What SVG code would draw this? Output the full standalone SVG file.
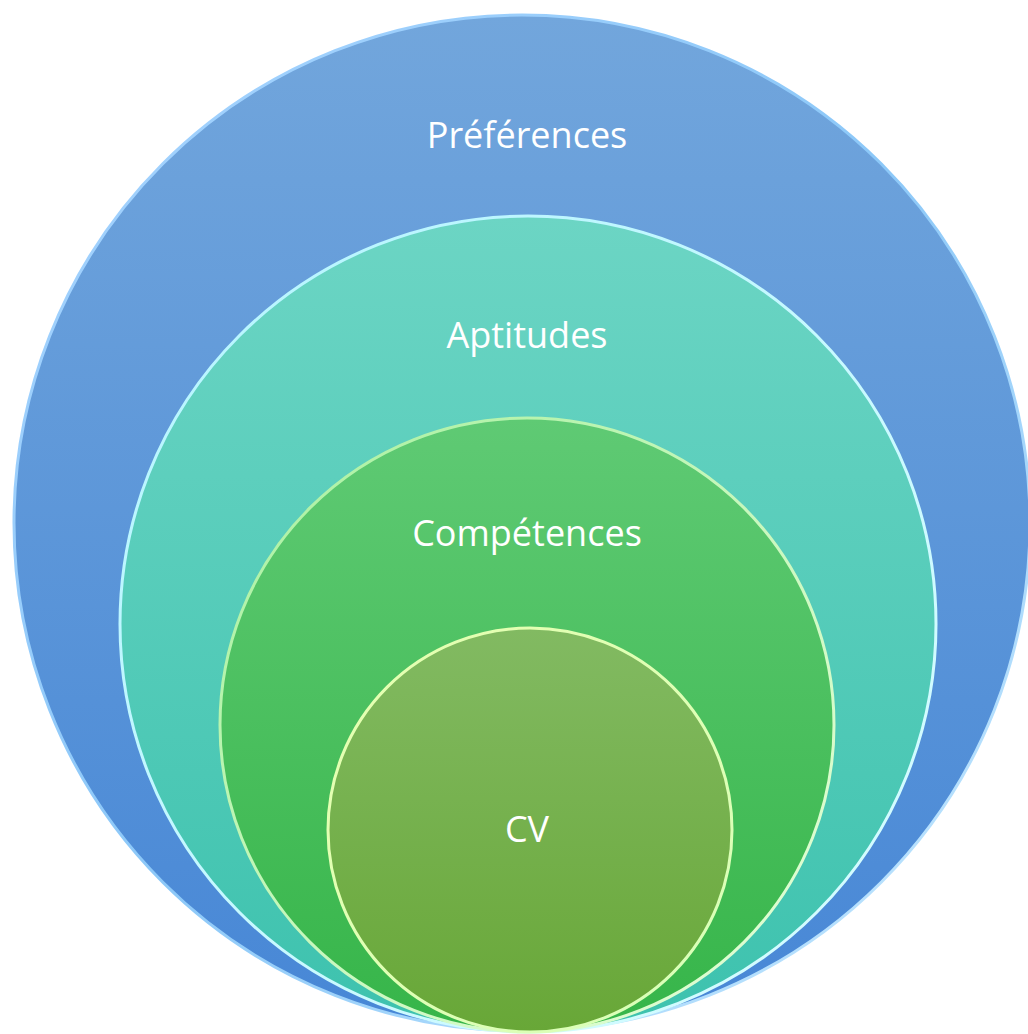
<svg xmlns="http://www.w3.org/2000/svg" width="1028" height="1034" viewBox="0 0 1028 1034">
  <style>
    .lbl { font-family: "Open Sans", "Noto Sans", "Liberation Sans", sans-serif; font-size: 36px; fill: #ffffff; text-anchor: middle; }
  </style>
  <defs>
    <linearGradient id="gBlue" x1="0" y1="0" x2="0" y2="1">
      <stop offset="0" stop-color="#72a6dc"/>
      <stop offset="1" stop-color="#4787d6"/>
    </linearGradient>
    <linearGradient id="gTeal" x1="0" y1="0" x2="0" y2="1">
      <stop offset="0" stop-color="#6cd5c4"/>
      <stop offset="1" stop-color="#3dc2ae"/>
    </linearGradient>
    <linearGradient id="gGreen" x1="0" y1="0" x2="0" y2="1">
      <stop offset="0" stop-color="#5fca74"/>
      <stop offset="1" stop-color="#36b549"/>
    </linearGradient>
    <linearGradient id="gOlive" x1="0" y1="0" x2="0" y2="1">
      <stop offset="0" stop-color="#82ba62"/>
      <stop offset="1" stop-color="#68a737"/>
    </linearGradient>
    <linearGradient id="sBlue" x1="0" y1="0" x2="1" y2="1">
      <stop offset="0" stop-color="#a8d4ff"/>
      <stop offset="0.5" stop-color="#8cc8f8"/>
      <stop offset="1" stop-color="#c8eaff"/>
    </linearGradient>
    <linearGradient id="sTeal" x1="0" y1="0" x2="1" y2="1">
      <stop offset="0" stop-color="#b4f4ff"/>
      <stop offset="1" stop-color="#d8fdff"/>
    </linearGradient>
    <linearGradient id="sGreen" x1="0" y1="0" x2="1" y2="1">
      <stop offset="0" stop-color="#a8f0a0"/>
      <stop offset="1" stop-color="#e6ffd8"/>
    </linearGradient>
    <linearGradient id="sOlive" x1="0" y1="0" x2="1" y2="1">
      <stop offset="0" stop-color="#e6ffb0"/>
      <stop offset="1" stop-color="#d8ffb8"/>
    </linearGradient>
  </defs>
  <rect width="1028" height="1034" fill="#ffffff"/>
  <g id="preferences">
    <circle cx="522" cy="523" r="508" fill="url(#gBlue)" stroke="url(#sBlue)" stroke-width="3"/>
    <text class="lbl" x="527" y="148">Préférences</text>
  </g>
  <g id="aptitudes">
    <circle cx="528" cy="624" r="408" fill="url(#gTeal)" stroke="url(#sTeal)" stroke-width="3"/>
    <text class="lbl" x="527" y="348">Aptitudes</text>
  </g>
  <g id="competences">
    <circle cx="527" cy="725" r="307" fill="url(#gGreen)" stroke="url(#sGreen)" stroke-width="3"/>
    <text class="lbl" x="527" y="546">Compétences</text>
  </g>
  <g id="cv">
    <circle cx="530" cy="830" r="202" fill="url(#gOlive)" stroke="url(#sOlive)" stroke-width="3"/>
    <text class="lbl" x="527" y="842">CV</text>
  </g>
  <g id="connectors"/>
</svg>
